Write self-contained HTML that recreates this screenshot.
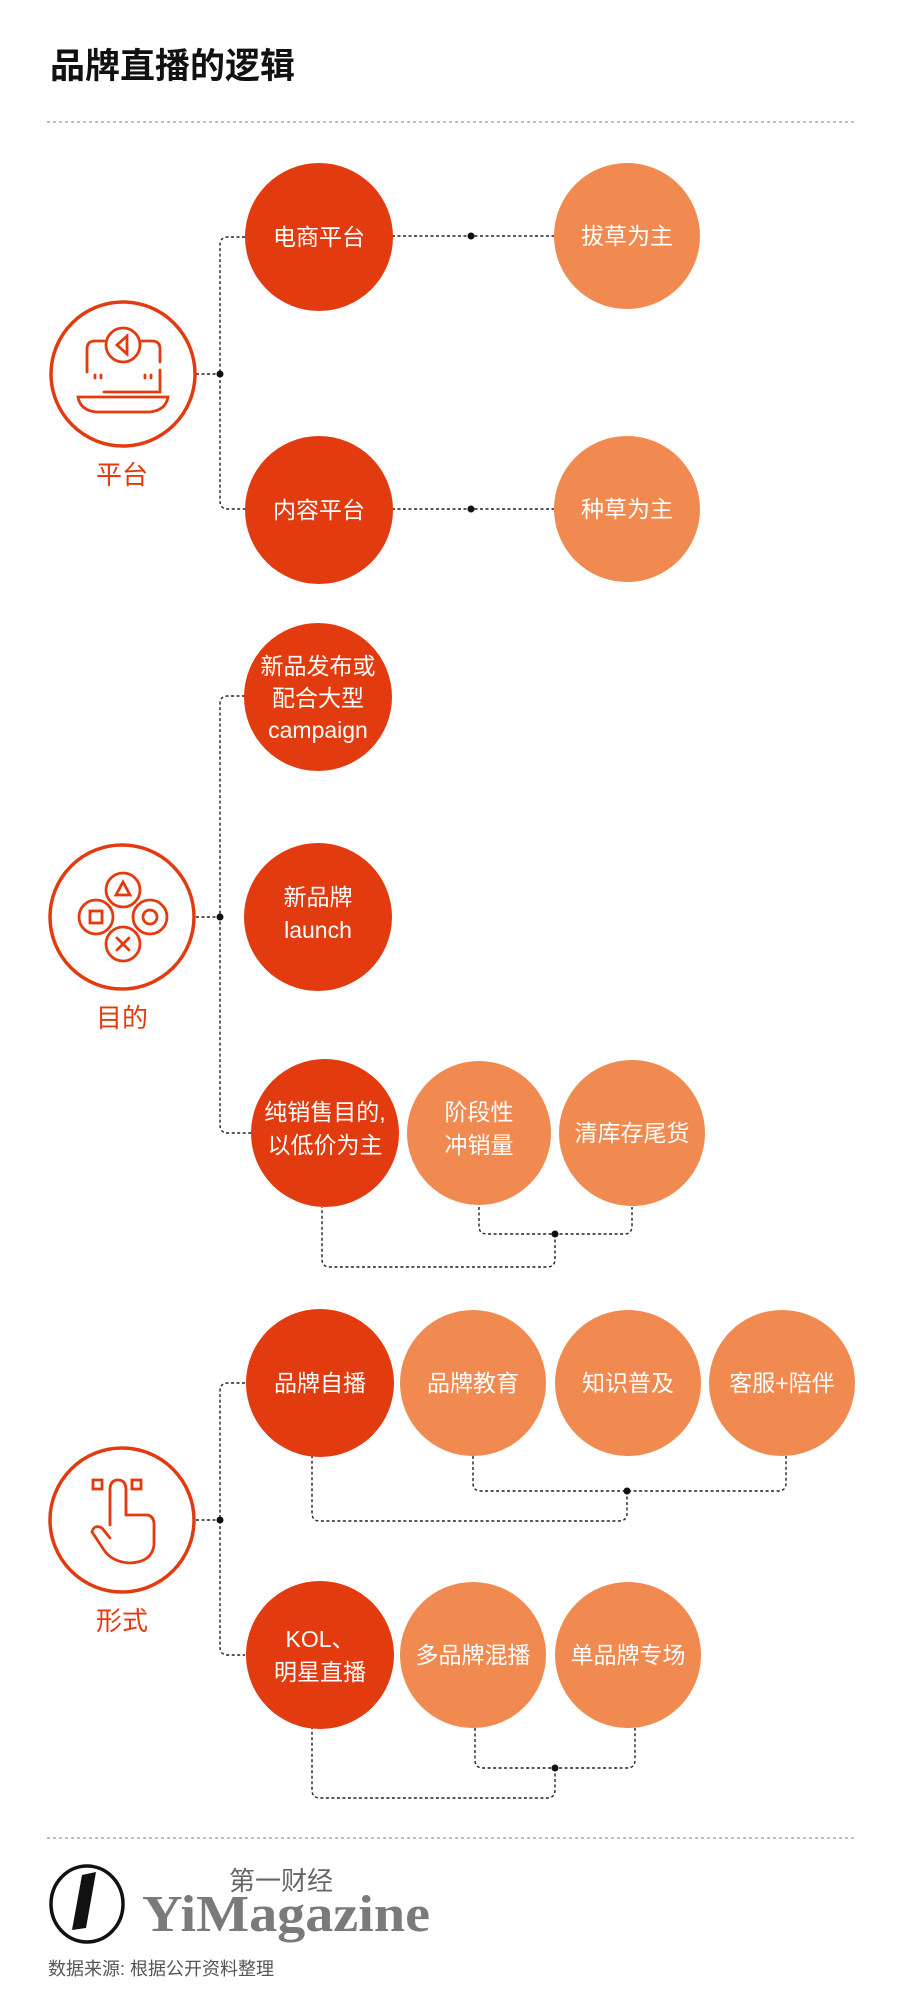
<!DOCTYPE html>
<html><head><meta charset="utf-8"><style>
html,body{margin:0;padding:0;background:#fff;}
svg{display:block;}
text{font-family:"Liberation Sans","Noto Sans CJK SC",sans-serif;}
</style></head><body>
<svg width="900" height="2012" viewBox="0 0 900 2012" xmlns="http://www.w3.org/2000/svg">
<defs>
<style>
.d{stroke:#222;stroke-width:1.4;stroke-dasharray:3 2.5;fill:none;}
.g{stroke:#aaa;stroke-width:1.5;stroke-dasharray:3 3;fill:none;}
.r{fill:#e33b10;}
.o{fill:#f08a50;}
.t{fill:#fff;font-size:23px;text-anchor:middle;}
.ic{fill:none;stroke:#e33b10;stroke-width:3.5;}
.is{fill:none;stroke:#e33b10;stroke-width:2.8;stroke-linecap:round;}
.lb{fill:#e33b10;font-size:26px;text-anchor:middle;}
</style>
</defs>
<text x="50" y="78" font-size="35" font-weight="bold" fill="#111">品牌直播的逻辑</text>
<line x1="47" y1="122" x2="856" y2="122" class="g"/>

<!-- Section 1 -->
<path class="d" d="M245 237 H228 Q220 237 220 245 V501 Q220 509 228 509 H245"/>
<line class="d" x1="196" y1="374" x2="220" y2="374"/>
<circle cx="220" cy="374" r="3.5" fill="#111"/>
<line class="d" x1="392" y1="236" x2="554" y2="236"/>
<circle cx="471" cy="236" r="3.5" fill="#111"/>
<line class="d" x1="392" y1="509" x2="554" y2="509"/>
<circle cx="471" cy="509" r="3.5" fill="#111"/>
<circle class="r" cx="319" cy="237" r="74"/>
<circle class="o" cx="627" cy="236" r="73"/>
<circle class="r" cx="319" cy="510" r="74"/>
<circle class="o" cx="627" cy="509" r="73"/>
<text class="t" x="319" y="245">电商平台</text>
<text class="t" x="627" y="244">拔草为主</text>
<text class="t" x="319" y="518">内容平台</text>
<text class="t" x="627" y="517">种草为主</text>
<circle class="ic" cx="123" cy="374" r="72"/>
<g class="is">
<path d="M87 372 V349 Q87 341 95 341 H104"/>
<path d="M142 341 H152 Q160 341 160 349 V362"/>
<circle cx="123" cy="345" r="17"/>
<path d="M127 336 L117 345 L127 354 Z"/>
<path d="M95 375 V378 M101 375 V378 M145 375 V378 M151 375 V378"/>
<path d="M160 370 V392 H104"/>
<path d="M78 397 H168 Q166 410 150 412 H96 Q80 410 78 397 Z"/>
</g>
<text class="lb" x="122" y="484">平台</text>

<!-- Section 2 -->
<path class="d" d="M245 696 H228 Q220 696 220 704 V1125 Q220 1133 228 1133 H251"/>
<line class="d" x1="196" y1="917" x2="220" y2="917"/>
<circle cx="220" cy="917" r="3.5" fill="#111"/>
<path class="d" d="M479 1207 V1226 Q479 1234 487 1234 H624 Q632 1234 632 1226 V1207"/>
<path class="d" d="M555 1234 V1259 Q555 1267 547 1267 H330 Q322 1267 322 1259 V1207"/>
<circle cx="555" cy="1234" r="3.5" fill="#111"/>
<circle class="r" cx="318" cy="697" r="74"/>
<circle class="r" cx="318" cy="917" r="74"/>
<circle class="r" cx="325" cy="1133" r="74"/>
<circle class="o" cx="479" cy="1133" r="72"/>
<circle class="o" cx="632" cy="1133" r="73"/>
<text class="t" x="318" y="674">新品发布或</text>
<text class="t" x="318" y="706">配合大型</text>
<text class="t" x="318" y="738" font-size="21">campaign</text>
<text class="t" x="318" y="905">新品牌</text>
<text class="t" x="318" y="938" font-size="21">launch</text>
<text class="t" x="325" y="1120">纯销售目的,</text>
<text class="t" x="325" y="1153">以低价为主</text>
<text class="t" x="479" y="1120">阶段性</text>
<text class="t" x="479" y="1153">冲销量</text>
<text class="t" x="632" y="1141">清库存尾货</text>
<circle class="ic" cx="122" cy="917" r="72"/>
<g class="is">
<circle cx="123" cy="890" r="17"/>
<circle cx="123" cy="944" r="17"/>
<circle cx="96" cy="917" r="17"/>
<circle cx="150" cy="917" r="17"/>
<path d="M123 882 L130 895 H116 Z"/>
<rect x="90" y="911" width="12" height="12"/>
<circle cx="150" cy="917" r="7"/>
<path d="M117 938 L129 950 M129 938 L117 950"/>
</g>
<text class="lb" x="122" y="1027">目的</text>

<!-- Section 3 -->
<path class="d" d="M245 1383 H228 Q220 1383 220 1391 V1647 Q220 1655 228 1655 H245"/>
<line class="d" x1="196" y1="1520" x2="220" y2="1520"/>
<circle cx="220" cy="1520" r="3.5" fill="#111"/>
<path class="d" d="M473 1456 V1483 Q473 1491 481 1491 H778 Q786 1491 786 1483 V1456"/>
<path class="d" d="M627 1491 V1513 Q627 1521 619 1521 H320 Q312 1521 312 1513 V1456"/>
<circle cx="627" cy="1491" r="3.5" fill="#111"/>
<path class="d" d="M475 1728 V1760 Q475 1768 483 1768 H627 Q635 1768 635 1760 V1728"/>
<path class="d" d="M555 1768 V1790 Q555 1798 547 1798 H320 Q312 1798 312 1790 V1728"/>
<circle cx="555" cy="1768" r="3.5" fill="#111"/>
<circle class="r" cx="320" cy="1383" r="74"/>
<circle class="o" cx="473" cy="1383" r="73"/>
<circle class="o" cx="628" cy="1383" r="73"/>
<circle class="o" cx="782" cy="1383" r="73"/>
<circle class="r" cx="320" cy="1655" r="74"/>
<circle class="o" cx="473" cy="1655" r="73"/>
<circle class="o" cx="628" cy="1655" r="73"/>
<text class="t" x="320" y="1391">品牌自播</text>
<text class="t" x="473" y="1391">品牌教育</text>
<text class="t" x="628" y="1391">知识普及</text>
<text class="t" x="782" y="1391">客服+陪伴</text>
<text class="t" x="320" y="1647">KOL、</text>
<text class="t" x="320" y="1680">明星直播</text>
<text class="t" x="473" y="1663">多品牌混播</text>
<text class="t" x="628" y="1663">单品牌专场</text>
<circle class="ic" cx="122" cy="1520" r="72"/>
<g class="is">
<rect x="93" y="1480" width="9" height="9"/>
<rect x="132" y="1480" width="9" height="9"/>
<path d="M110 1525 V1490 Q110 1480 118 1480 Q126 1480 126 1490 V1515 H148 Q154 1517 154 1524 V1545 Q152 1562 130 1563 Q112 1562 104 1550 L92 1532 Q94 1524 102 1528 L110 1538"/>
</g>
<text class="lb" x="122" y="1630">形式</text>

<!-- Footer -->
<line x1="47" y1="1838" x2="856" y2="1838" class="g"/>
<ellipse cx="87" cy="1904" rx="36" ry="38" fill="none" stroke="#111" stroke-width="3.5"/>
<path d="M82 1875 L96 1872 L86 1928 L72 1930 Z" fill="#111"/>
<text x="229" y="1890" font-size="26" fill="#666">第一财经</text>
<text x="142" y="1931" font-size="52" font-weight="bold" fill="#7a7a7a" style="font-family:'Liberation Serif',serif" textLength="288" lengthAdjust="spacingAndGlyphs">YiMagazine</text>
<text x="48" y="1975" font-size="18" fill="#555">数据来源: 根据公开资料整理</text>
</svg>
</body></html>
